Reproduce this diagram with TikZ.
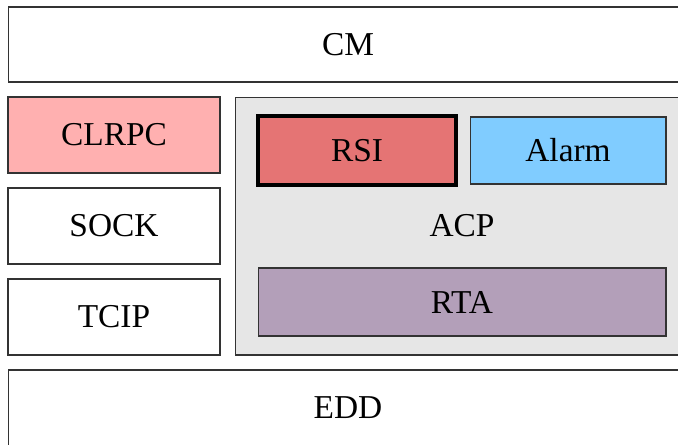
\documentclass[tikz,border=0pt]{standalone}
\usepackage{fontspec}
\setmainfont{Liberation Serif}
\definecolor{clrpcred}{HTML}{FFB0B0}
\definecolor{rsired}{HTML}{E57474}
\definecolor{alarmblue}{HTML}{80CCFF}
\definecolor{rtaviolet}{HTML}{B39FB9}
\definecolor{acpgray}{HTML}{E6E6E6}
\tikzset{
  layer/.style={draw=black!80,rectangle,inner sep=0pt,line width=0.6pt,
    font=\fontsize{19}{22}\selectfont},
}
\begin{document}
\begin{tikzpicture}[x=0.02cm,y=-0.02cm,line join=miter]
\path[use as bounding box] (0,0) rectangle (678,444);
% Top layer.
\node[layer,minimum width=13.6cm,minimum height=1.5cm] (cm) at (348,44.5) {CM};
% Left column: transport stack.
\node[layer,fill=clrpcred,minimum width=4.24cm,minimum height=1.52cm] (clrpc) at (114,135) {CLRPC};
\node[layer,minimum width=4.24cm,minimum height=1.52cm] (sock) at (114,226) {SOCK};
\node[layer,minimum width=4.24cm,minimum height=1.52cm] (tcip) at (114,317) {TCIP};
% Right column: ACP with its parts.
\node[layer,fill=acpgray,minimum width=9.08cm,minimum height=5.16cm] (acp) at (462,226) {ACP};
\node[layer,fill=rsired,draw=black,line width=2pt,minimum width=3.96cm,minimum height=1.38cm] (rsi) at (357,150.5) {RSI};
\node[layer,fill=alarmblue,minimum width=3.92cm,minimum height=1.34cm] (alarm) at (568,150.5) {Alarm};
\node[layer,fill=rtaviolet,minimum width=8.16cm,minimum height=1.36cm] (rta) at (462,302) {RTA};
% Bottom layer.
\node[layer,minimum width=13.6cm,minimum height=1.52cm] (edd) at (348,408) {EDD};
\end{tikzpicture}
\end{document}
